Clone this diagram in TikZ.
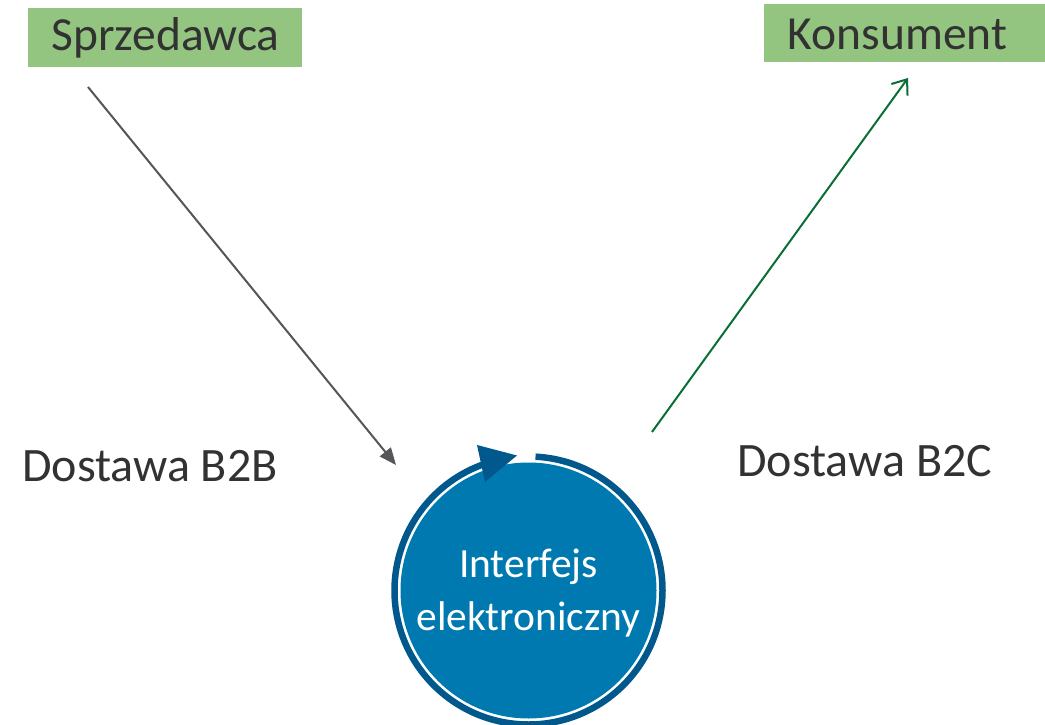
\documentclass[tikz,border=0pt]{standalone}
\usepackage{fontspec}
\setmainfont{Carlito}
\usetikzlibrary{arrows.meta}
\definecolor{boxgreen}{RGB}{147,196,128}
\definecolor{txt}{RGB}{50,50,50}
\definecolor{discblue}{RGB}{0,121,176}
\definecolor{ringblue}{RGB}{0,88,140}
\definecolor{arrgray}{RGB}{85,85,90}
\definecolor{arrgreen}{RGB}{10,110,55}
\tikzset{
  actor/.style={text=txt, inner sep=0pt, font=\fontsize{47.5}{52}\selectfont, anchor=center},
  label/.style={text=txt, inner sep=0pt, anchor=base west, font=\fontsize{48}{52}\selectfont},
  disc/.style={circle, fill=discblue, inner sep=0pt, minimum size=256pt},
  inner/.style={text=white, font=\fontsize{41.5}{53}\selectfont, anchor=base, inner sep=0pt},
  ring/.style={draw=ringblue, line width=6.5pt},
  supply/.style={draw=arrgray, line width=2pt, -{Triangle[length=17pt,width=14pt]}},
  deliver/.style={draw=arrgreen, line width=2pt, -{Straight Barb[length=13pt,width=20pt,line width=2pt]}}
}
\begin{document}
\begin{tikzpicture}[x=1pt,y=-1pt]
\useasboundingbox (0,0) rectangle (1045,725);
\fill[boxgreen] (28,8) rectangle (302,67);
\fill[boxgreen] (764,4) rectangle (1045,62);
\node[actor] (sprz) at (165.5,38) {Sprzedawca};
\node[actor] (kons) at (897.5,34) {Konsument};
\node[disc] (iface) at (528.5,590.5) {};
\node[inner] (l1) at (528.5,577) {Interfejs};
\node[inner] (l2) at (528.5,630) {elektroniczny};
\draw[ring] ([shift={(-87:134)}]iface.center) arc[start angle=-87, end angle=251, radius=134];
\fill[ringblue] (477,445) -- (517,455.5) -- (485,482) -- cycle;
\node[label] (b2b) at (22,481) {Dostawa B2B};
\node[label] (b2c) at (737,476) {Dostawa B2C};
\coordinate (s0) at (88,87);
\coordinate (s1) at (396,465);
\coordinate (k0) at (652,432);
\coordinate (k1) at (908,78);
\draw[supply] (s0) -- (s1);
\draw[deliver] (k0) -- (k1);
\end{tikzpicture}
\end{document}
